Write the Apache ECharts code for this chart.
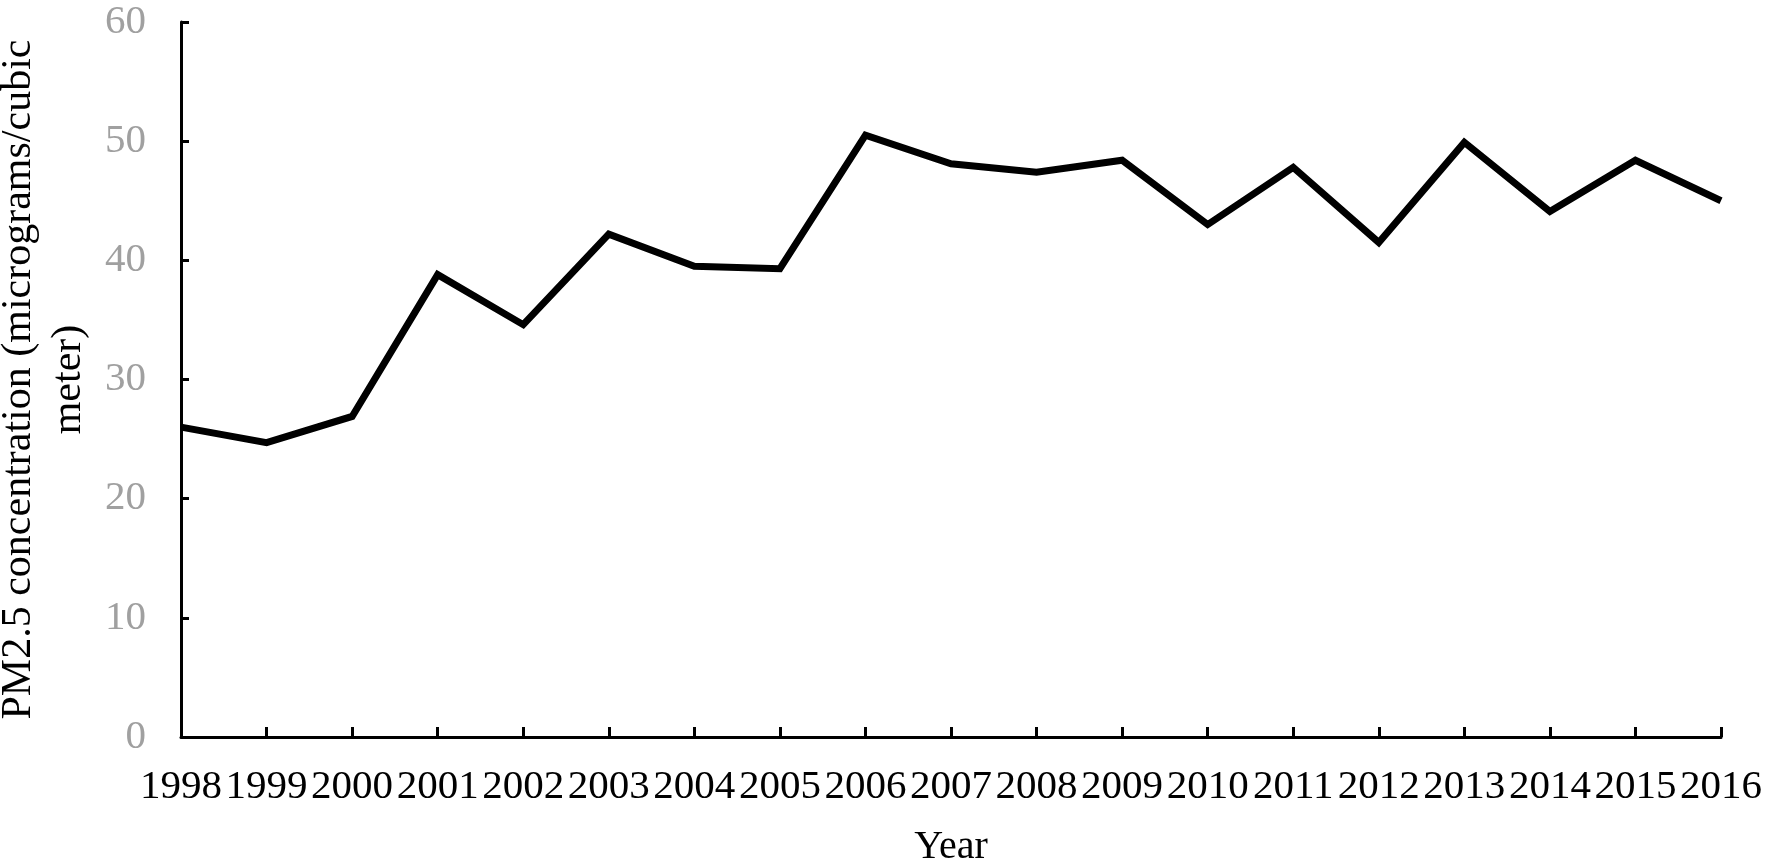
<!DOCTYPE html>
<html>
<head>
<meta charset="utf-8">
<script src="https://cdn.jsdelivr.net/npm/echarts@6/dist/echarts.min.js"></script>
<style>
html,body{margin:0;padding:0;background:#fff;}
#chart{width:1772px;height:867px;}
</style>
</head>
<body>
<div id="chart"></div>
<script>
const years = ['1998','1999','2000','2001','2002','2003','2004','2005','2006','2007','2008','2009','2010','2011','2012','2013','2014','2015','2016'];
const pm25 = [26.0, 24.7, 26.9, 38.8, 34.6, 42.2, 39.5, 39.3, 50.5, 48.1, 47.4, 48.4, 43.0, 47.8, 41.5, 49.9, 44.1, 48.4, 45.0];
const yTicks = { min: 0, max: 60, interval: 10 };
const yTitle = 'PM2.5 concentration (micrograms/cubic\nmeter)';
const xTitle = 'Year';

const chart = echarts.init(document.getElementById('chart'), null, { renderer: 'canvas' });
const font = '"Liberation Serif", "Times New Roman", serif';
chart.setOption({
  animation: false,
  backgroundColor: '#ffffff',
  grid: { left: 181, right: 51, top: 22, bottom: 130, containLabel: false, outerBoundsMode: 'none' },
  xAxis: {
    type: 'category',
    data: years,
    boundaryGap: false,
    name: xTitle,
    nameLocation: 'middle',
    nameGap: 90,
    nameTextStyle: { fontFamily: font, fontSize: 40, color: '#000' },
    axisLine: { lineStyle: { color: '#000', width: 3 } },
    axisTick: { show: true, inside: true, length: 10, lineStyle: { color: '#000', width: 3 } },
    axisLabel: { interval: 0, hideOverlap: false, margin: 30, fontFamily: font, fontSize: 41, color: '#000' },
    splitLine: { show: false }
  },
  yAxis: {
    type: 'value',
    min: yTicks.min,
    max: yTicks.max,
    interval: yTicks.interval,
    name: yTitle,
    nameLocation: 'middle',
    nameGap: 82,
    nameRotate: 90,
    nameTextStyle: { fontFamily: font, fontSize: 42, color: '#000', lineHeight: 50 },
    axisLine: { show: true, lineStyle: { color: '#000', width: 3 } },
    axisTick: { show: true, inside: true, length: 8, lineStyle: { color: '#000', width: 3 } },
    axisLabel: { margin: 35, fontFamily: font, fontSize: 41, color: '#a0a0a0' },
    splitLine: { show: false }
  },
  series: [{
    type: 'line',
    data: pm25,
    symbol: 'none',
    lineStyle: { color: '#000', width: 7, join: 'miter' },
    itemStyle: { color: '#000' }
  }]
});
</script>
</body>
</html>
